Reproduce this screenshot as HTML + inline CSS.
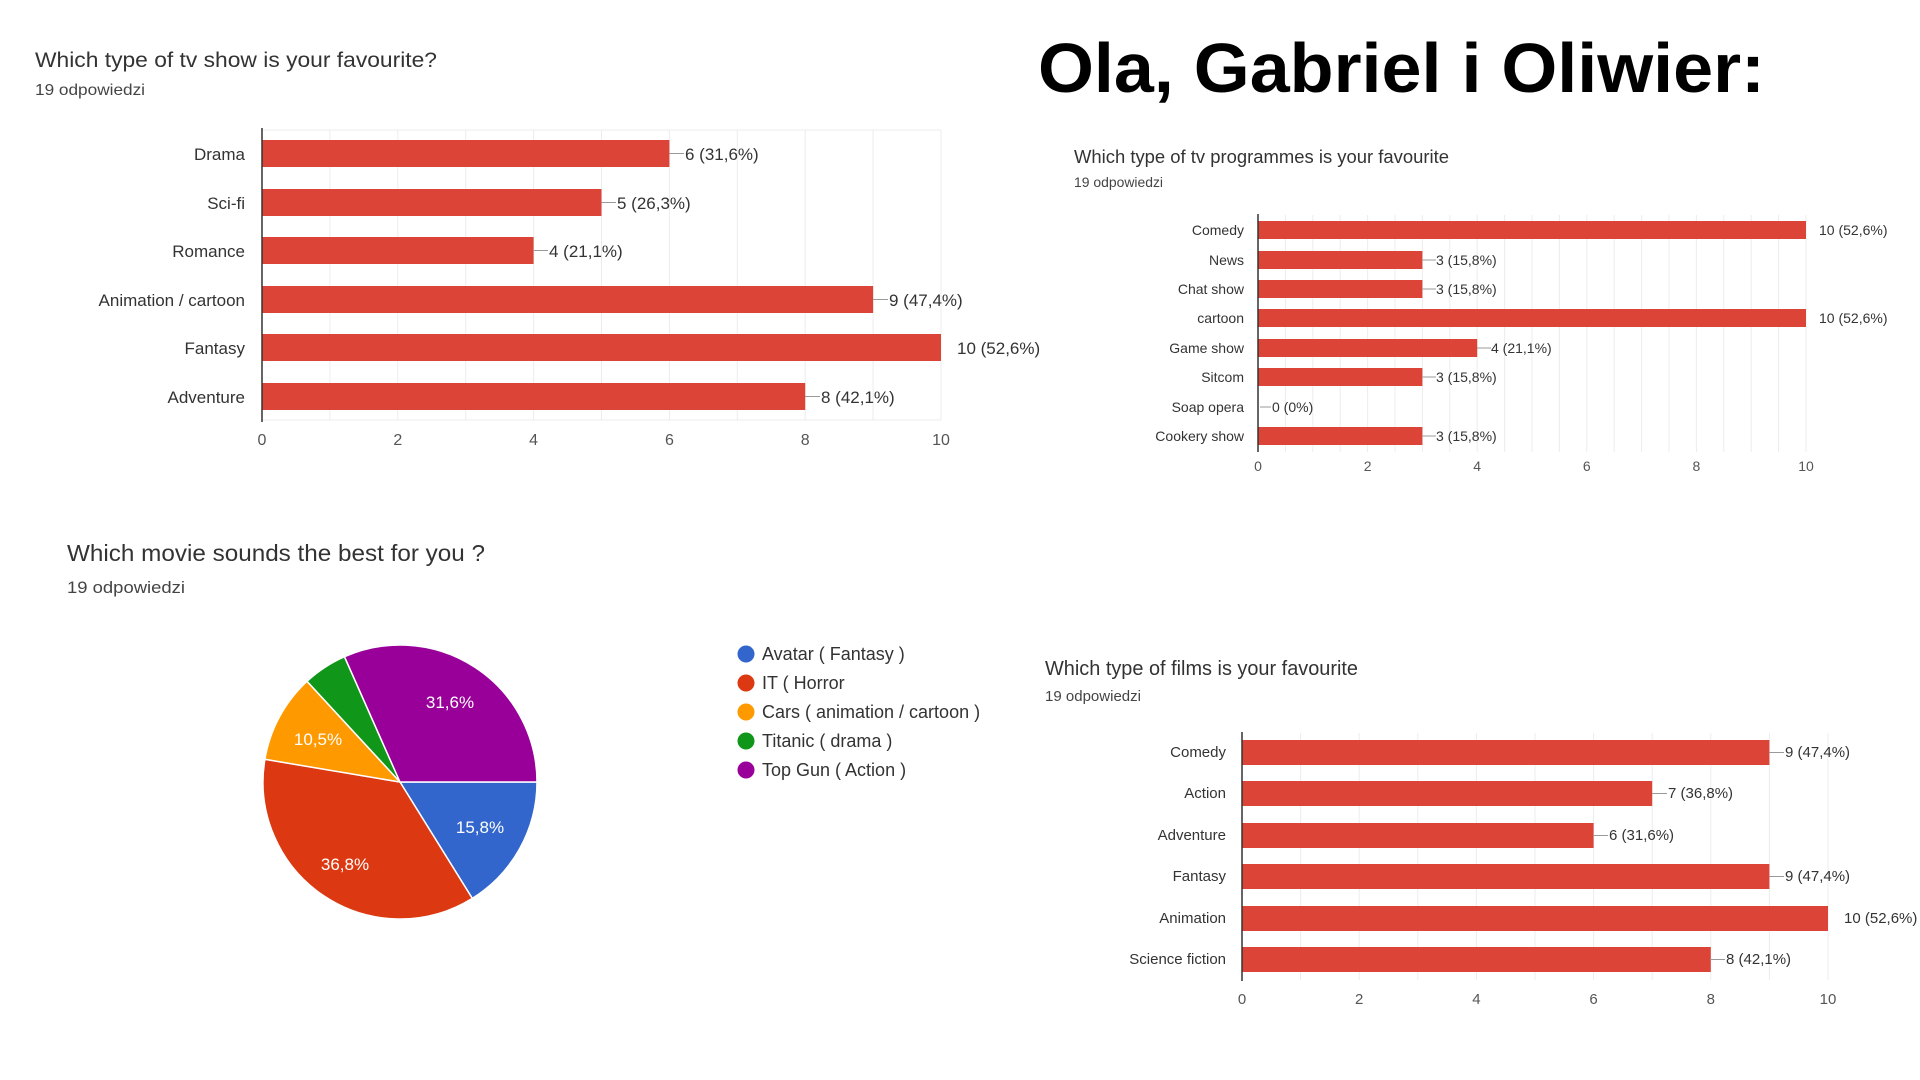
<!DOCTYPE html>
<html><head><meta charset="utf-8"><style>
html,body{margin:0;padding:0;background:#fff;}
svg{display:block;font-family:"Liberation Sans",Arial,sans-serif;}
</style></head><body>
<svg width="1920" height="1080" viewBox="0 0 1920 1080" xmlns="http://www.w3.org/2000/svg">
<rect width="1920" height="1080" fill="#fff"/>
<!-- Big title -->
<text x="1038" y="92" font-size="70" font-weight="bold" fill="#000" textLength="727" lengthAdjust="spacingAndGlyphs">Ola, Gabriel i Oliwier:</text>

<!-- Chart 1 -->
<text x="35" y="67" font-size="21" fill="#333" textLength="402" lengthAdjust="spacingAndGlyphs">Which type of tv show is your favourite?</text>
<text x="35" y="95" font-size="16" fill="#444" textLength="110" lengthAdjust="spacingAndGlyphs">19 odpowiedzi</text>
<g stroke="#ececec" stroke-width="1">
<line x1="329.9" y1="130" x2="329.9" y2="420"/><line x1="397.8" y1="130" x2="397.8" y2="420"/>
<line x1="465.7" y1="130" x2="465.7" y2="420"/><line x1="533.6" y1="130" x2="533.6" y2="420"/>
<line x1="601.5" y1="130" x2="601.5" y2="420"/><line x1="669.4" y1="130" x2="669.4" y2="420"/>
<line x1="737.3" y1="130" x2="737.3" y2="420"/><line x1="805.2" y1="130" x2="805.2" y2="420"/>
<line x1="873.1" y1="130" x2="873.1" y2="420"/><line x1="941" y1="130" x2="941" y2="420"/>
<line x1="262" y1="130" x2="941" y2="130"/><line x1="262" y1="420" x2="941" y2="420"/>
</g>
<g fill="#db4437">
<rect x="262" y="140" width="407.4" height="27"/>
<rect x="262" y="189" width="339.5" height="27"/>
<rect x="262" y="237" width="271.6" height="27"/>
<rect x="262" y="286" width="611.1" height="27"/>
<rect x="262" y="334" width="679" height="27"/>
<rect x="262" y="383" width="543.2" height="27"/>
</g>
<line x1="262" y1="128" x2="262" y2="422" stroke="#333" stroke-width="1.5"/>
<g font-size="17" fill="#333" text-anchor="end">
<text x="245" y="160">Drama</text><text x="245" y="209">Sci-fi</text><text x="245" y="257">Romance</text>
<text x="245" y="306">Animation / cartoon</text><text x="245" y="354">Fantasy</text><text x="245" y="403">Adventure</text>
</g>
<g stroke="#999" stroke-width="1">
<line x1="669" y1="153.5" x2="684" y2="153.5"/><line x1="601" y1="202.5" x2="616" y2="202.5"/>
<line x1="533" y1="250.5" x2="548" y2="250.5"/><line x1="873" y1="299.5" x2="888" y2="299.5"/>
<line x1="805" y1="396.5" x2="820" y2="396.5"/>
</g>
<g font-size="17" fill="#333">
<text x="685" y="160">6 (31,6%)</text><text x="617" y="209">5 (26,3%)</text><text x="549" y="257">4 (21,1%)</text>
<text x="889" y="306">9 (47,4%)</text><text x="957" y="354">10 (52,6%)</text><text x="821" y="403">8 (42,1%)</text>
</g>
<g font-size="16" fill="#555" text-anchor="middle">
<text x="262" y="445">0</text><text x="397.8" y="445">2</text><text x="533.6" y="445">4</text>
<text x="669.4" y="445">6</text><text x="805.2" y="445">8</text><text x="941" y="445">10</text>
</g>

<!-- Chart 2 -->
<text x="1074" y="163" font-size="18" fill="#333" textLength="375" lengthAdjust="spacingAndGlyphs">Which type of tv programmes is your favourite</text>
<text x="1074" y="187" font-size="14" fill="#444" textLength="89" lengthAdjust="spacingAndGlyphs">19 odpowiedzi</text>
<g stroke="#ececec" stroke-width="1">
<line x1="1285.4" y1="215" x2="1285.4" y2="452"/><line x1="1312.8" y1="215" x2="1312.8" y2="452"/>
<line x1="1340.2" y1="215" x2="1340.2" y2="452"/><line x1="1367.6" y1="215" x2="1367.6" y2="452"/>
<line x1="1395" y1="215" x2="1395" y2="452"/><line x1="1422.4" y1="215" x2="1422.4" y2="452"/>
<line x1="1449.8" y1="215" x2="1449.8" y2="452"/><line x1="1477.2" y1="215" x2="1477.2" y2="452"/>
<line x1="1504.6" y1="215" x2="1504.6" y2="452"/><line x1="1532" y1="215" x2="1532" y2="452"/>
<line x1="1559.4" y1="215" x2="1559.4" y2="452"/><line x1="1586.8" y1="215" x2="1586.8" y2="452"/>
<line x1="1614.2" y1="215" x2="1614.2" y2="452"/><line x1="1641.6" y1="215" x2="1641.6" y2="452"/>
<line x1="1669" y1="215" x2="1669" y2="452"/><line x1="1696.4" y1="215" x2="1696.4" y2="452"/>
<line x1="1723.8" y1="215" x2="1723.8" y2="452"/><line x1="1751.2" y1="215" x2="1751.2" y2="452"/>
<line x1="1778.6" y1="215" x2="1778.6" y2="452"/><line x1="1806" y1="215" x2="1806" y2="452"/>
</g>
<g fill="#db4437">
<rect x="1258" y="221" width="548" height="18"/>
<rect x="1258" y="251" width="164.4" height="18"/>
<rect x="1258" y="280" width="164.4" height="18"/>
<rect x="1258" y="309" width="548" height="18"/>
<rect x="1258" y="339" width="219.2" height="18"/>
<rect x="1258" y="368" width="164.4" height="18"/>
<rect x="1258" y="427" width="164.4" height="18"/>
</g>
<line x1="1258" y1="214" x2="1258" y2="452" stroke="#333" stroke-width="1.5"/>
<g font-size="14" fill="#333" text-anchor="end">
<text x="1244" y="235">Comedy</text><text x="1244" y="265">News</text><text x="1244" y="294">Chat show</text>
<text x="1244" y="323">cartoon</text><text x="1244" y="353">Game show</text><text x="1244" y="382">Sitcom</text>
<text x="1244" y="412">Soap opera</text><text x="1244" y="441">Cookery show</text>
</g>
<g stroke="#999" stroke-width="1">
<line x1="1422" y1="260" x2="1436" y2="260"/><line x1="1422" y1="289" x2="1436" y2="289"/>
<line x1="1477" y1="348" x2="1491" y2="348"/><line x1="1422" y1="377" x2="1436" y2="377"/>
<line x1="1260" y1="407" x2="1271" y2="407"/><line x1="1422" y1="436" x2="1436" y2="436"/>
</g>
<g font-size="14" fill="#333">
<text x="1819" y="235">10 (52,6%)</text><text x="1436" y="265">3 (15,8%)</text><text x="1436" y="294">3 (15,8%)</text>
<text x="1819" y="323">10 (52,6%)</text><text x="1491" y="353">4 (21,1%)</text><text x="1436" y="382">3 (15,8%)</text>
<text x="1272" y="412">0 (0%)</text><text x="1436" y="441">3 (15,8%)</text>
</g>
<g font-size="14" fill="#555" text-anchor="middle">
<text x="1258" y="471">0</text><text x="1367.6" y="471">2</text><text x="1477.2" y="471">4</text>
<text x="1586.8" y="471">6</text><text x="1696.4" y="471">8</text><text x="1806" y="471">10</text>
</g>

<!-- Chart 3 pie -->
<text x="67" y="561" font-size="23" fill="#333" textLength="418" lengthAdjust="spacingAndGlyphs">Which movie sounds the best for you ?</text>
<text x="67" y="593" font-size="17" fill="#444" textLength="118" lengthAdjust="spacingAndGlyphs">19 odpowiedzi</text>
<g stroke="#fff" stroke-width="1.5">
<path d="M400,782 L537,782 A137,137 0 0 1 472.3,898.4 Z" fill="#3366cc"/>
<path d="M400,782 L472.3,898.4 A137,137 0 0 1 264.9,759.3 Z" fill="#dc3912"/>
<path d="M400,782 L264.9,759.3 A137,137 0 0 1 307.0,681.3 Z" fill="#ff9900"/>
<path d="M400,782 L307.0,681.3 A137,137 0 0 1 344.5,656.7 Z" fill="#109618"/>
<path d="M400,782 L344.5,656.7 A137,137 0 0 1 537,782 Z" fill="#990099"/>
</g>
<g font-size="17" fill="#fff" text-anchor="middle">
<text x="450" y="708">31,6%</text><text x="318" y="745">10,5%</text>
<text x="345" y="870">36,8%</text><text x="480" y="833">15,8%</text>
</g>
<circle cx="746" cy="654" r="8.5" fill="#3366cc"/>
<circle cx="746" cy="683" r="8.5" fill="#dc3912"/>
<circle cx="746" cy="712" r="8.5" fill="#ff9900"/>
<circle cx="746" cy="741" r="8.5" fill="#109618"/>
<circle cx="746" cy="770" r="8.5" fill="#990099"/>
<g font-size="18" fill="#333">
<text x="762" y="660">Avatar ( Fantasy )</text><text x="762" y="689">IT ( Horror</text>
<text x="762" y="718">Cars ( animation / cartoon )</text><text x="762" y="747">Titanic ( drama )</text>
<text x="762" y="776">Top Gun ( Action )</text>
</g>

<!-- Chart 4 -->
<text x="1045" y="675" font-size="20" fill="#333" textLength="313" lengthAdjust="spacingAndGlyphs">Which type of films is your favourite</text>
<text x="1045" y="701" font-size="15" fill="#444" textLength="96" lengthAdjust="spacingAndGlyphs">19 odpowiedzi</text>
<g stroke="#ececec" stroke-width="1">
<line x1="1300.6" y1="733" x2="1300.6" y2="980"/><line x1="1359.2" y1="733" x2="1359.2" y2="980"/>
<line x1="1417.8" y1="733" x2="1417.8" y2="980"/><line x1="1476.4" y1="733" x2="1476.4" y2="980"/>
<line x1="1535" y1="733" x2="1535" y2="980"/><line x1="1593.6" y1="733" x2="1593.6" y2="980"/>
<line x1="1652.2" y1="733" x2="1652.2" y2="980"/><line x1="1710.8" y1="733" x2="1710.8" y2="980"/>
<line x1="1769.4" y1="733" x2="1769.4" y2="980"/><line x1="1828" y1="733" x2="1828" y2="980"/>
</g>
<g fill="#db4437">
<rect x="1242" y="740" width="527.4" height="25"/>
<rect x="1242" y="781" width="410.2" height="25"/>
<rect x="1242" y="823" width="351.6" height="25"/>
<rect x="1242" y="864" width="527.4" height="25"/>
<rect x="1242" y="906" width="586" height="25"/>
<rect x="1242" y="947" width="468.8" height="25"/>
</g>
<line x1="1242" y1="732" x2="1242" y2="981" stroke="#333" stroke-width="1.5"/>
<g font-size="15" fill="#333" text-anchor="end">
<text x="1226" y="757">Comedy</text><text x="1226" y="798">Action</text><text x="1226" y="840">Adventure</text>
<text x="1226" y="881">Fantasy</text><text x="1226" y="923">Animation</text><text x="1226" y="964">Science fiction</text>
</g>
<g stroke="#999" stroke-width="1">
<line x1="1769" y1="752.5" x2="1784" y2="752.5"/><line x1="1652" y1="793.5" x2="1667" y2="793.5"/>
<line x1="1593" y1="835.5" x2="1608" y2="835.5"/><line x1="1769" y1="876.5" x2="1784" y2="876.5"/>
<line x1="1710" y1="959.5" x2="1725" y2="959.5"/>
</g>
<g font-size="15" fill="#333">
<text x="1785" y="757">9 (47,4%)</text><text x="1668" y="798">7 (36,8%)</text><text x="1609" y="840">6 (31,6%)</text>
<text x="1785" y="881">9 (47,4%)</text><text x="1844" y="923">10 (52,6%)</text><text x="1726" y="964">8 (42,1%)</text>
</g>
<g font-size="15" fill="#555" text-anchor="middle">
<text x="1242" y="1004">0</text><text x="1359.2" y="1004">2</text><text x="1476.4" y="1004">4</text>
<text x="1593.6" y="1004">6</text><text x="1710.8" y="1004">8</text><text x="1828" y="1004">10</text>
</g>
</svg>
</body></html>
